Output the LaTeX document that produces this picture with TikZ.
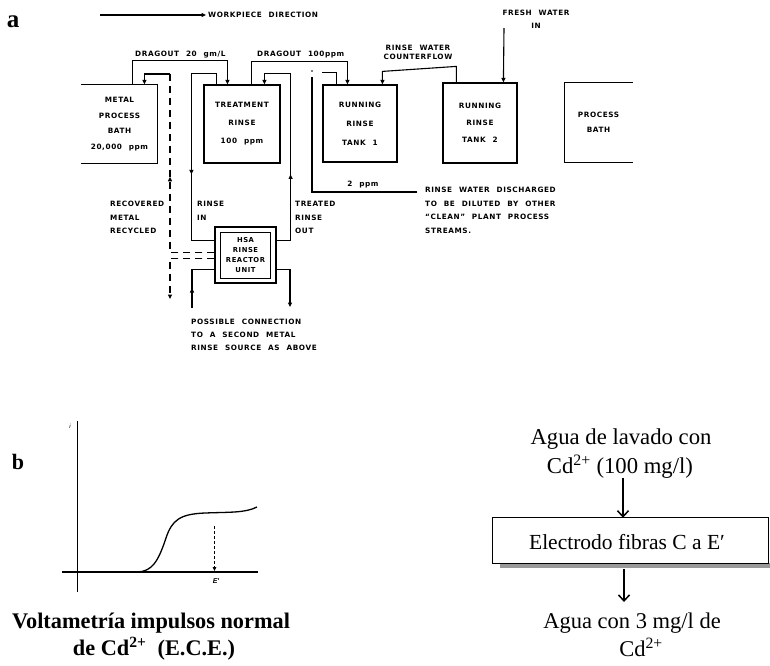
\documentclass[tikz,border=0pt]{standalone}
\usepackage{fontspec}
\setmainfont{Liberation Serif}
\newfontfamily\lbl[LetterSpace=8,WordSpace=2.2]{DejaVu Sans Bold}
\newfontfamily\sans{Liberation Sans}
\usetikzlibrary{arrows.meta,decorations.markings,calc}
\tikzset{
  pipe/.style={line width=1.1pt},
  tip/.style={-{Triangle[length=4.5pt,width=4pt]}},
  dashpipe/.style={line width=1.2pt, dash pattern=on 7pt off 5pt},
  midarrow/.style={postaction={decorate,decoration={markings,mark=at position #1 with {\arrow{Triangle[length=4.5pt,width=4pt]}}}}},
  tank/.style={draw, line width=1.2pt, inner sep=0pt, align=center},
  lab/.style={inner sep=0pt},
  bigarrow/.style={line width=1.5pt, -{Straight Barb[length=6pt,width=11pt]}},
}
\newcommand{\lf}[1]{\lbl\fontsize{7.3}{#1}\selectfont}
\begin{document}
\begin{tikzpicture}[x=1pt,y=-1pt]
\fill[white] (0,0) rectangle (770,665);
\useasboundingbox (0,0) rectangle (770,665);

% ---------------- part a ----------------
\node[lab, font=\bfseries\fontsize{25}{25}\selectfont] (la) at (13,21.5) {a};

\coordinate (w0) at (100,15);
\node[lab, anchor=west, font=\lf{8}] (wp) at (208,15) {WORKPIECE DIRECTION};
\draw[pipe, tip, shorten >=2pt] (w0) -- (wp.west);

% tanks
\node[tank, draw=none, minimum width=75pt, minimum height=78pt, font=\lf{15.5}] (mpb) at (119.5,124) {METAL\\PROCESS\\BATH\\20,000 ppm};
\draw[line width=1.2pt] (mpb.north west) -- (mpb.north east) -- (mpb.south east) -- (mpb.south west);
\node[tank, minimum width=76pt, minimum height=78pt, font=\lf{18}] (tr) at (242,124) {TREATMENT\\RINSE\\100 ppm};
\node[tank, minimum width=74pt, minimum height=77pt, font=\lf{19}] (t1) at (360,123.5) {RUNNING\\RINSE\\TANK 1};
\node[tank, minimum width=74pt, minimum height=80pt, font=\lf{17}] (t2) at (480,123) {RUNNING\\RINSE\\TANK 2};
\node[tank, draw=none, minimum width=67pt, minimum height=79pt, font=\lf{15}] (pb) at (598.5,122.5) {PROCESS\\BATH};
\draw[line width=1.2pt] (pb.north east) -- (pb.north west) -- (pb.south west) -- (pb.south east);

% reactor
\node[draw, line width=1.2pt, minimum width=61pt, minimum height=56pt, inner sep=0pt] (hsa) at (245.5,255) {};
\draw[line width=1.2pt] ([xshift=6pt,yshift=-6pt]hsa.north west) rectangle ([xshift=-6pt,yshift=5pt]hsa.south east);
\node[lab, align=center, font=\lbl\fontsize{6.8}{10}\selectfont] (hsat) at (245.5,255.5) {HSA\\RINSE\\REACTOR\\UNIT};

% dragout 20
\draw[pipe, tip] ([xshift=51pt]mpb.north west) -- ++(0,-24) -| ([xshift=24pt]tr.north west);
\node[lab, anchor=west, font=\lf{8}] (d20) at (135,55) {DRAGOUT 20 gm/L};

% recovered metal
\coordinate (rc) at (170,74);
\draw[dashpipe, midarrow=120pt] ([yshift=-26pt]hsa.north west) -| (rc);
\draw[pipe, tip] (rc) -| ([xshift=63pt]mpb.north west);
\coordinate (rd) at (170,299);
\draw[dashpipe, tip] ([yshift=-32pt]hsa.north west) -| (rd);

% rinse in
\draw[pipe, midarrow=137pt] ([xshift=13pt]tr.north west) -- ++(0,-11) -- ++(-25,0) |- ([yshift=-14pt]hsa.north west);
% treated rinse out
\draw[pipe, tip, midarrow=80pt] ([yshift=-14pt]hsa.north east) -- ++(14,0) -- ++(0,-167) -| ([xshift=61pt]tr.north west);

% dragout 100
\draw[pipe, tip] ([xshift=48pt]tr.north west) -- ++(0,-23) -| ([xshift=25pt]t1.north west);
\node[lab, anchor=west, font=\lf{8}] (d100) at (257,55) {DRAGOUT 100ppm};

% tank 1 outlet
\draw[pipe] ([xshift=14pt]t1.north west) -- ++(0,-12) -- ++(-14,0);
\coordinate (dis) at (417,192);
\draw[pipe] (dis) -| (312,77);
\fill (312,71) circle (0.8);
\node[lab, font=\lf{8}] (p2) at (363,185) {2 ppm};

% counterflow
\draw[pipe, tip] ([xshift=14pt]t2.north west) -- ++(0,-16) -- ++(-74,5) -- ([xshift=60pt]t1.north west);
\node[lab, align=center, font=\lf{9.5}] (cf) at (418,52.5) {RINSE WATER\\COUNTERFLOW};

% fresh water
\coordinate (fw) at (504,28);
\draw[pipe, tip] (fw) -- ([xshift=61pt]t2.north west);
\node[lab, align=center, font=\lf{12.5}] (fwl) at (536,19.5) {FRESH WATER\\IN};

% bottom connections
\coordinate (bl) at (192,308);
\draw[pipe, midarrow=20pt] (bl) |- ([yshift=-43pt]hsa.north west);
\coordinate (br) at (290,307);
\draw[pipe, tip] ([yshift=-43pt]hsa.north east) -| (br);

% labels
\node[lab, align=left, anchor=north west, font=\lf{13.5}] (rwd) at (425,187) {RINSE WATER DISCHARGED\\TO BE DILUTED BY OTHER\\“CLEAN” PLANT PROCESS\\STREAMS.};
\node[lab, align=left, anchor=north west, font=\lf{13.5}] (rec) at (110,201) {RECOVERED\\METAL\\RECYCLED};
\node[lab, align=left, anchor=north west, font=\lf{13.5}] (rin) at (197,201) {RINSE\\IN};
\node[lab, align=left, anchor=north west, font=\lf{13.5}] (tro) at (295,201) {TREATED\\RINSE\\OUT};
\node[lab, align=left, anchor=north west, font=\lf{13}] (pos) at (191,319) {POSSIBLE CONNECTION\\TO A SECOND METAL\\RINSE SOURCE AS ABOVE};

% ---------------- part b ----------------
\node[lab, font=\bfseries\fontsize{22}{22}\selectfont] (lb) at (18,462) {b};

\draw[line width=0.9pt] (77,421) -- (77,592);
\node[lab, font=\sans\itshape\fontsize{6}{6}\selectfont] (ilab) at (70,426) {i};
\draw[line width=1.1pt] (62,572) -- (258,572);
\draw[line width=1.3pt] (137,572) .. controls (152,571.5) and (158,562) .. (166,538)
  .. controls (172,520) and (180,514) .. (205,513)
  .. controls (230,512) and (245,513) .. (257,507);
\draw[line width=0.8pt, dash pattern=on 3pt off 2pt, -{Triangle[length=4pt,width=3.5pt]}] (214.5,526) -- (214.5,571);
\node[lab, font=\sans\bfseries\itshape\fontsize{7}{7}\selectfont] (elab) at (216,581) {E′};

\node[lab, anchor=base, font=\bfseries\fontsize{22.3}{22}\selectfont] (cap1) at (151,628) {Voltametría impulsos normal};
\node[lab, anchor=base, font=\bfseries\fontsize{22.3}{22}\selectfont] (cap2) at (154,655) {de Cd\textsuperscript{2+}\ \ (E.C.E.)};

% right flow
\node[lab, anchor=base, font=\fontsize{22.7}{22}\selectfont] (in1) at (621,444) {Agua de lavado con};
\node[lab, anchor=base, font=\fontsize{22.7}{22}\selectfont] (in2) at (620,473) {Cd\textsuperscript{2+} (100 mg/l)};
\node[minimum width=275pt, minimum height=45pt, inner sep=0pt] (el) at (630.5,540.5) {};
\fill[black!40] ([xshift=7pt]el.south west) rectangle ([xshift=2pt,yshift=-5pt]el.south east);
\draw[fill=white, line width=1.1pt] (el.north west) rectangle (el.south east);
\node[lab, anchor=base, font=\fontsize{21.5}{21.5}\selectfont] (elt) at (627,549) {Electrodo fibras C a E′};
\coordinate (a1s) at (623,478);
\draw[bigarrow] (a1s) -- (a1s |- el.north);
\coordinate (a2e) at (624,602);
\path (el.south -| a2e) ++(0,6) coordinate (a2s);
\draw[bigarrow] (a2s) -- (a2e);
\node[lab, anchor=base, font=\fontsize{22.5}{22}\selectfont] (out1) at (632,628) {Agua con 3 mg/l de};
\node[lab, anchor=base, font=\fontsize{22.5}{22}\selectfont] (out2) at (641,656) {Cd\textsuperscript{2+}};
\end{tikzpicture}
\end{document}
